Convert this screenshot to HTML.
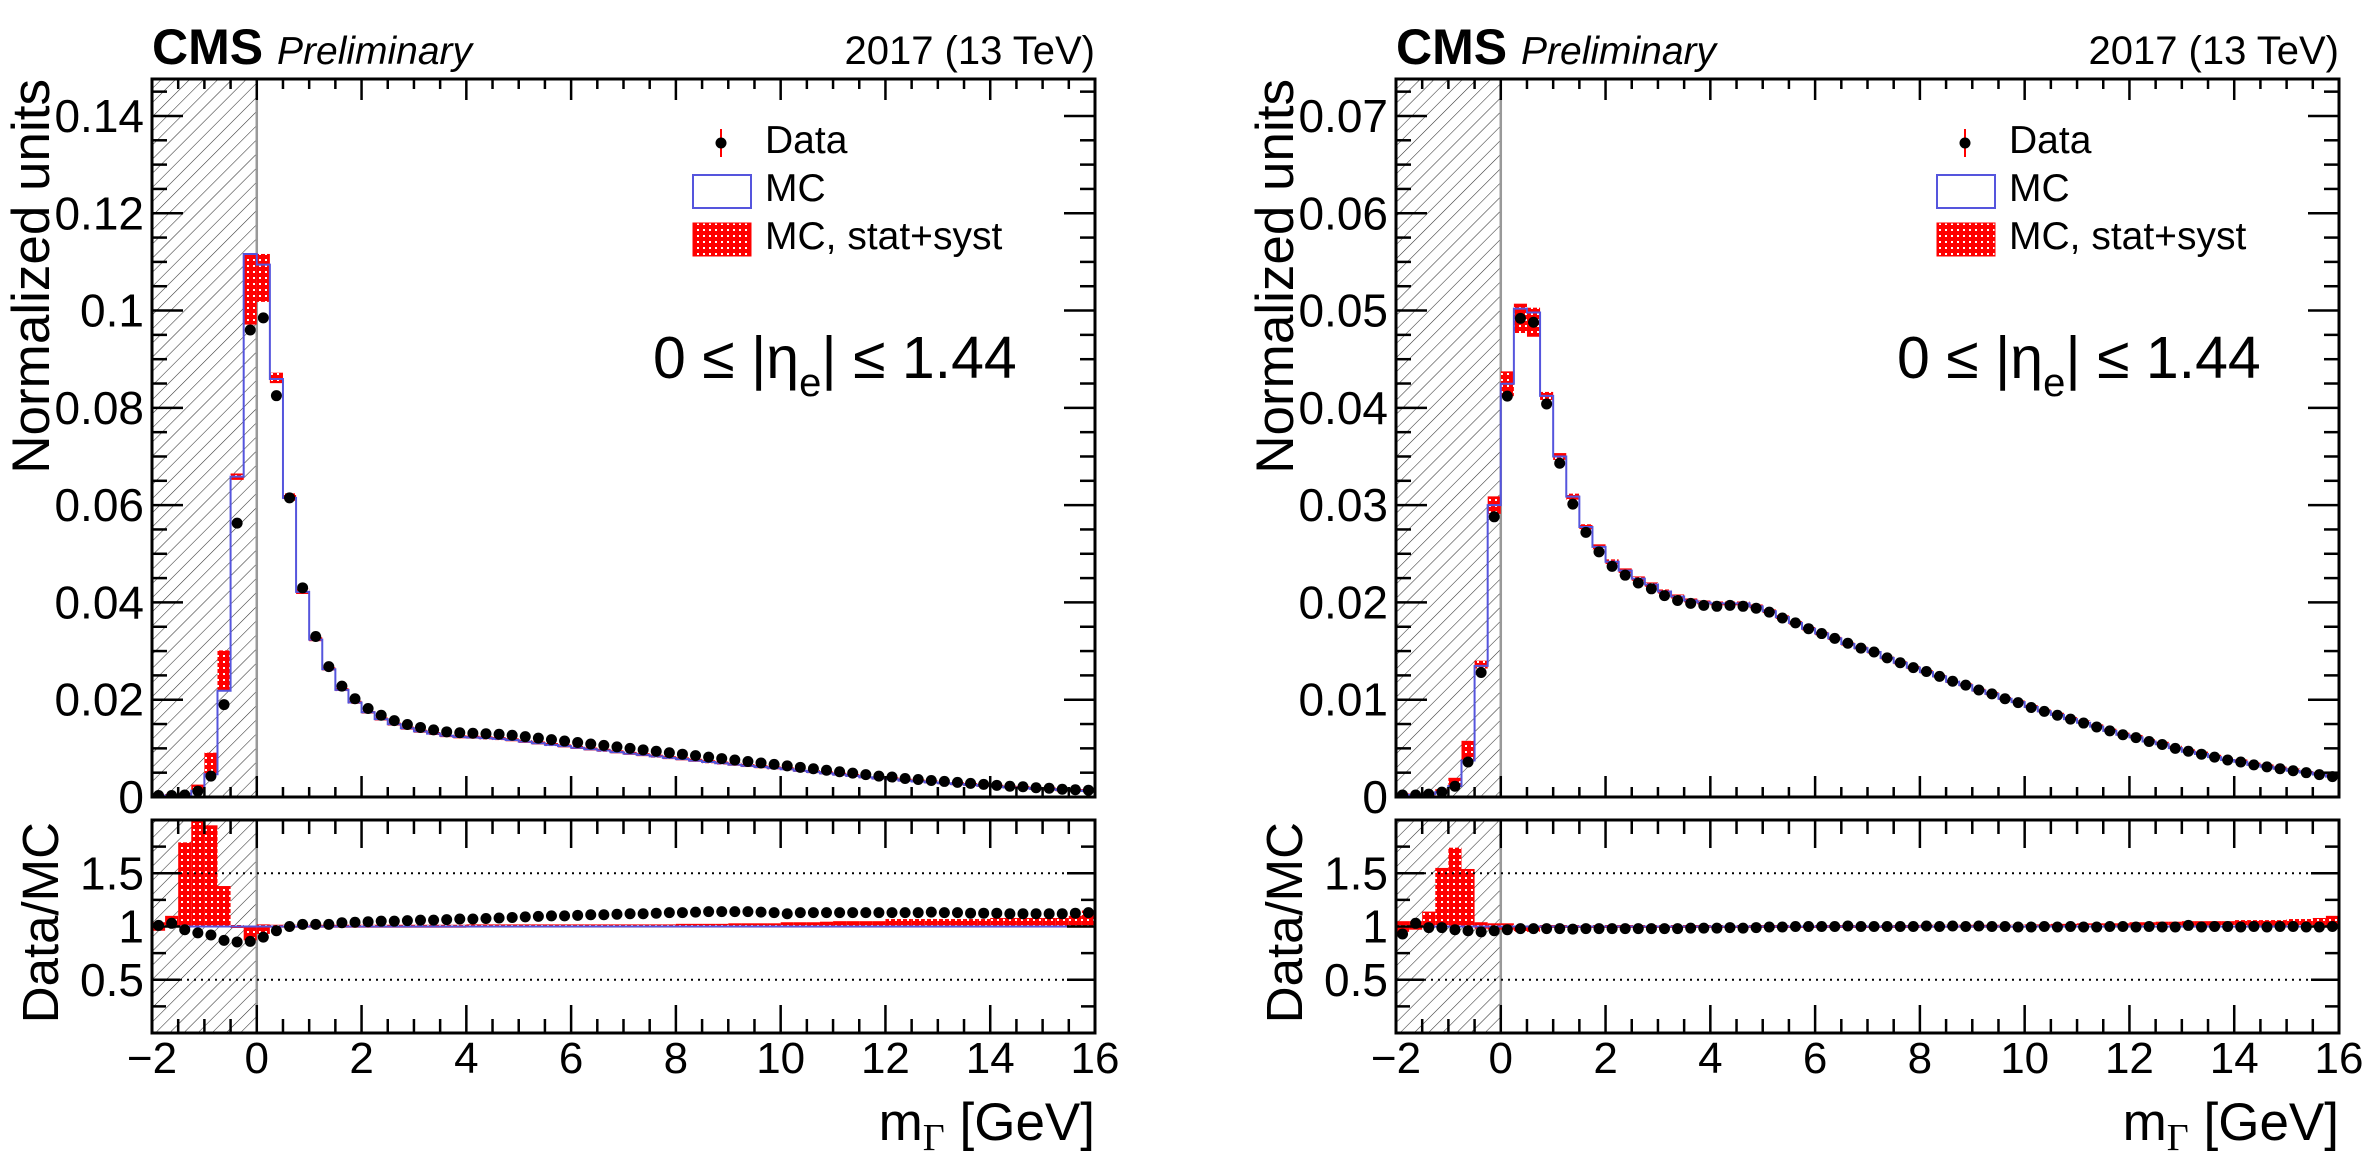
<!DOCTYPE html>
<html><head><meta charset="utf-8">
<style>
html,body{margin:0;padding:0;background:#fff;}
svg{display:block;font-family:"Liberation Sans",Arial,sans-serif;}
</style></head>
<body>
<svg id="fig" width="2378" height="1162" viewBox="0 0 2378 1162" xmlns="http://www.w3.org/2000/svg">
<defs>
<pattern id="hatch" patternUnits="userSpaceOnUse" width="10" height="10" patternTransform="rotate(45)">
<line x1="0" y1="0" x2="0" y2="10" stroke="#333" stroke-width="1.1"/>
</pattern>
<pattern id="redpat" patternUnits="userSpaceOnUse" width="6" height="6">
<rect width="6" height="6" fill="#ff0000"/>
<rect x="1" y="1" width="2" height="2" fill="#ffffff"/>
</pattern>
</defs>
</svg>
<script>
// ---------- data (72 bins of width 0.25 GeV from -2 to 16) ----------
const binLow = -2, binWidth = 0.25;
const xTicksMajor = [-2, 0, 2, 4, 6, 8, 10, 12, 14, 16];
const xTickLabels = ["\u22122", "0", "2", "4", "6", "8", "10", "12", "14", "16"];

// left panel
const leftData = [0.0003,0.0003,0.0004,0.0012,0.0043,0.019,0.0563,0.096,
0.0985,0.0825,0.0615,0.043,0.033,0.0268,0.0228,0.0202,
0.0182,0.0168,0.0157,0.0149,0.0143,0.0138,0.0134,0.0132,
0.0131,0.0130,0.0129,0.0127,0.0124,0.0121,0.0118,0.0115,
0.0112,0.0109,0.0106,0.0103,0.0100,0.0097,0.0094,0.0091,
0.0088,0.0085,0.0082,0.0079,0.0076,0.0073,0.0070,0.0067,
0.0064,0.0061,0.0058,0.0055,0.0052,0.0049,0.0046,0.0043,
0.0041,0.0038,0.0036,0.0034,0.0032,0.0030,0.0028,0.0026,
0.0024,0.0022,0.0021,0.0019,0.0018,0.0016,0.0015,0.0014];
const leftRatio = [1.01,1.03,0.97,0.94,0.92,0.87,0.855,0.86,
0.90,0.96,1.00,1.02,1.02,1.02,1.035,1.04,
1.045,1.05,1.05,1.055,1.06,1.06,1.065,1.07,
1.07,1.075,1.08,1.085,1.09,1.095,1.10,1.10,
1.105,1.11,1.11,1.115,1.12,1.12,1.125,1.13,
1.13,1.135,1.14,1.14,1.14,1.14,1.135,1.13,
1.12,1.13,1.13,1.13,1.13,1.13,1.13,1.13,
1.13,1.13,1.13,1.135,1.13,1.13,1.125,1.125,
1.125,1.12,1.12,1.12,1.12,1.12,1.125,1.13];
const leftErrUp = [0.04,0.10,0.79,1.00,0.95,0.38,0.01,0.00,
0.02,0.015,0.015,0.015,0.015,0.015,0.015,0.015,
0.015,0.015,0.015,0.015,0.015,0.015,0.015,0.015,
0.02,0.02,0.02,0.02,0.02,0.02,0.02,0.02,
0.02,0.02,0.02,0.02,0.02,0.02,0.02,0.02,
0.025,0.025,0.025,0.025,0.03,0.03,0.03,0.03,
0.04,0.04,0.04,0.045,0.05,0.05,0.05,0.05,
0.07,0.07,0.07,0.07,0.07,0.07,0.07,0.07,
0.08,0.08,0.08,0.08,0.08,0.08,0.10,0.15];
const leftErrDn = [0.04,0,0,0,0,0,0.01,0.13,
0.07,0.01,0.01,0.01,0.01,0.01,0.01,0.01,
0.01,0.01,0.01,0.01,0.01,0.01,0.01,0.01,
0.01,0.01,0.01,0.01,0.01,0.01,0.01,0.01,
0.01,0.01,0.01,0.01,0.01,0.01,0.01,0.01,
0.01,0.01,0.01,0.01,0.01,0.01,0.01,0.01,
0.01,0.01,0.01,0.01,0.01,0.01,0.01,0.01,
0.01,0.01,0.01,0.01,0.01,0.01,0.01,0.01,
0.01,0.01,0.01,0.01,0.01,0.01,0.01,0.01];
const leftYTicks = [0, 0.02, 0.04, 0.06, 0.08, 0.1, 0.12, 0.14];
const leftYLabels = ["0","0.02","0.04","0.06","0.08","0.1","0.12","0.14"];

// right panel
const rightData = [0.0002,0.0002,0.0003,0.0005,0.0011,0.0036,0.0128,0.0288,
0.0412,0.0492,0.0488,0.0404,0.0343,0.0301,0.0272,0.0252,
0.0237,0.0228,0.0220,0.0214,0.0207,0.0202,0.0199,0.0197,
0.0196,0.0197,0.0196,0.0194,0.0190,0.0184,0.0179,0.0173,
0.0168,0.0163,0.0158,0.0153,0.0149,0.0143,0.0138,0.0133,
0.0129,0.0124,0.0119,0.0115,0.0110,0.0106,0.0101,0.0097,
0.0092,0.0088,0.0084,0.0080,0.0076,0.0072,0.0068,0.0064,
0.0061,0.0057,0.0054,0.0050,0.0047,0.0044,0.0041,0.0038,
0.0036,0.0033,0.0031,0.0029,0.0027,0.0025,0.0023,0.0021];
const rightRatio = [0.93,1.03,0.99,0.99,0.97,0.96,0.95,0.96,
0.97,0.98,0.98,0.98,0.98,0.975,0.98,0.98,
0.98,0.98,0.98,0.98,0.98,0.98,0.985,0.985,
0.985,0.99,0.985,0.99,0.995,0.995,1.0,1.0,
1.0,1.0,1.005,1.0,1.0,1.0,1.0,1.0,
1.005,1.0,1.005,1.0,1.005,1.0,1.0,0.995,
0.995,1.0,0.995,1.0,0.995,0.995,1.0,1.0,
0.995,1.0,0.995,0.995,1.01,0.995,1.0,1.0,
0.995,1.0,0.995,1.0,1.0,0.995,0.995,1.0];
const rightErrUp = [0.05,0.05,0.14,0.55,0.74,0.54,0.04,0.03,
0.03,0.01,0.01,0.01,0.01,0.01,0.01,0.01,
0.01,0.01,0.01,0.01,0.01,0.01,0.01,0.01,
0.01,0.01,0.01,0.01,0.01,0.01,0.01,0.01,
0.01,0.01,0.01,0.01,0.01,0.01,0.01,0.01,
0.015,0.015,0.015,0.015,0.015,0.015,0.015,0.015,
0.02,0.02,0.025,0.025,0.03,0.03,0.03,0.03,
0.04,0.04,0.045,0.045,0.05,0.05,0.05,0.05,
0.06,0.06,0.06,0.06,0.07,0.07,0.08,0.1];
const rightErrDn = [0.05,0.03,0,0,0,0,0.02,0.03,
0.03,0.05,0.05,0.01,0.01,0.01,0.01,0.01,
0.01,0.01,0.01,0.01,0.01,0.01,0.01,0.01,
0.01,0.01,0.01,0.01,0.01,0.01,0.01,0.01,
0.01,0.01,0.01,0.01,0.01,0.01,0.01,0.01,
0.01,0.01,0.01,0.01,0.01,0.01,0.01,0.01,
0.01,0.01,0.01,0.01,0.01,0.01,0.01,0.01,
0.01,0.01,0.01,0.01,0.01,0.01,0.01,0.01,
0.01,0.01,0.01,0.01,0.01,0.01,0.01,0.01];
const rightYTicks = [0, 0.01, 0.02, 0.03, 0.04, 0.05, 0.06, 0.07];
const rightYLabels = ["0","0.01","0.02","0.03","0.04","0.05","0.06","0.07"];

const ratioTicks = [0.5, 1, 1.5];
const ratioLabels = ["0.5", "1", "1.5"];

// ---------- drawing ----------
const NS = "http://www.w3.org/2000/svg";
const svg = document.getElementById("fig");
function mk(tag, attrs, parent) {
  const e = document.createElementNS(NS, tag);
  for (const k in attrs) e.setAttribute(k, attrs[k]);
  (parent || svg).appendChild(e);
  return e;
}

const TOP = {y0: 79, y1: 797};
const RAT = {y0: 820, y1: 1033, min: 0, max: 2};
const W = 943;

function drawPanel(px, data, ratio, errUp, errDn, ymax, yTicks, yLabels, yMinorStep, key) {
  const g = mk("g", {});
  
  
  const xs = v => px + (v - (-2)) / 18 * W;
  const ys = v => TOP.y1 - v / ymax * (TOP.y1 - TOP.y0);
  const yr = v => RAT.y1 - (Math.max(RAT.min, Math.min(RAT.max, v)) - RAT.min) / (RAT.max - RAT.min) * (RAT.y1 - RAT.y0);
  const mc = data.map((d, i) => d / ratio[i]);

  const cid = key + "clipTop", rid = key + "clipRat";
  const cp = mk("clipPath", {id: cid}, g); mk("rect", {x: px, y: TOP.y0, width: W, height: TOP.y1 - TOP.y0}, cp);
  const cr = mk("clipPath", {id: rid}, g); mk("rect", {x: px, y: RAT.y0, width: W, height: RAT.y1 - RAT.y0}, cr);

  const h1 = mk("rect", {x: xs(-2), y: TOP.y0, width: xs(0) - xs(-2), height: TOP.y1 - TOP.y0, fill: "url(#hatch)"}, g);
  
  
  const h2 = mk("rect", {x: xs(-2), y: RAT.y0, width: xs(0) - xs(-2), height: RAT.y1 - RAT.y0, fill: "url(#hatch)"}, g);
  
  
  mk("line", {x1: xs(0), x2: xs(0), y1: TOP.y0, y2: TOP.y1, stroke: "#999", "stroke-width": 2.5}, g);
  mk("line", {x1: xs(0), x2: xs(0), y1: RAT.y0, y2: RAT.y1, stroke: "#999", "stroke-width": 2.5}, g);

  const gt = mk("g", {"clip-path": "url(#" + cid + ")"}, g);
  for (let i = 0; i < mc.length; i++) {
    const xa = xs(binLow + i * binWidth), xb = xs(binLow + (i + 1) * binWidth);
    let ya = ys(mc[i] * (1 + errUp[i])), yb = ys(mc[i] * (1 - errDn[i]));
    if (yb - ya < 3) { const m = (ya + yb) / 2; ya = m - 1.5; yb = m + 1.5; }
    const r = mk("rect", {x: xa, y: ya, width: xb - xa, height: yb - ya, fill: "url(#redpat)"}, gt);
    
    
  }
  let d = "";
  for (let i = 0; i < mc.length; i++) {
    const xa = xs(binLow + i * binWidth), xb = xs(binLow + (i + 1) * binWidth), y = ys(mc[i]);
    d += (i === 0 ? "M" : "L") + xa + "," + y + "L" + xb + "," + y;
  }
  const mcl = mk("path", {d: d, fill: "none", stroke: "#5555dd", "stroke-width": 2}, gt);
  
  
  for (let i = 0; i < data.length; i++) {
    const c = mk("circle", {cx: xs(binLow + (i + 0.5) * binWidth), cy: ys(data[i]), r: 5.5, fill: "#000"}, gt);
    
    
  }

  const gr = mk("g", {"clip-path": "url(#" + rid + ")"}, g);
  for (let i = 0; i < mc.length; i++) {
    const xa = xs(binLow + i * binWidth), xb = xs(binLow + (i + 1) * binWidth);
    let ya = yr(1 + errUp[i]), yb = yr(1 - errDn[i]);
    if (yb - ya < 3) { const m = (ya + yb) / 2; ya = m - 1.5; yb = m + 1.5; }
    const r = mk("rect", {x: xa, y: ya, width: xb - xa, height: yb - ya, fill: "url(#redpat)"}, gr);
    
    
  }
  ratioTicks.forEach(v => {
    const l = mk("line", {x1: px, x2: px + W, y1: yr(v), y2: yr(v), stroke: "#000", "stroke-width": 2, "stroke-dasharray": "2,5"}, gr);
    
    
  });
  mk("line", {x1: px, x2: px + W, y1: yr(1), y2: yr(1), stroke: "#5555dd", "stroke-width": 2}, gr);
  for (let i = 0; i < ratio.length; i++) {
    const c = mk("circle", {cx: xs(binLow + (i + 0.5) * binWidth), cy: yr(ratio[i]), r: 5.5, fill: "#000"}, gr);
    
    
  }

  [[TOP.y0, TOP.y1], [RAT.y0, RAT.y1]].forEach(([a, b], k) => {
    const f = mk("rect", {x: px, y: a, width: W, height: b - a, fill: "none", stroke: "#000", "stroke-width": 3}, g);
    
    
  });

  for (let v = -2; v <= 16.001; v += 0.5) {
    const major = Math.abs(v / 2 - Math.round(v / 2)) < 1e-6;
    const x = xs(v);
    const lt = major ? 21 : 10, lr = major ? 28 : 14;
    mk("line", {x1: x, x2: x, y1: TOP.y1, y2: TOP.y1 - lt, stroke: "#000", "stroke-width": 2.5}, g);
    mk("line", {x1: x, x2: x, y1: TOP.y0, y2: TOP.y0 + lt, stroke: "#000", "stroke-width": 2.5}, g);
    mk("line", {x1: x, x2: x, y1: RAT.y1, y2: RAT.y1 - lr, stroke: "#000", "stroke-width": 2.5}, g);
    mk("line", {x1: x, x2: x, y1: RAT.y0, y2: RAT.y0 + lr, stroke: "#000", "stroke-width": 2.5}, g);
  }
  xTicksMajor.forEach((v, i) => {
    const t = mk("text", {x: xs(v), y: 1073, "font-size": 44, "text-anchor": "middle"}, g);
    t.textContent = xTickLabels[i];
    
    
  });

  for (let v = 0; v <= ymax + 1e-9; v += yMinorStep) {
    const major = Math.abs((v / (yMinorStep * 4)) - Math.round(v / (yMinorStep * 4))) < 1e-6;
    const y = ys(v), l = major ? 31 : 15;
    mk("line", {x1: px, x2: px + l, y1: y, y2: y, stroke: "#000", "stroke-width": 2.5}, g);
    mk("line", {x1: px + W, x2: px + W - l, y1: y, y2: y, stroke: "#000", "stroke-width": 2.5}, g);
  }
  yTicks.forEach((v, i) => {
    const t = mk("text", {x: px - 8, y: ys(v) + 16, "font-size": 46, "text-anchor": "end"}, g);
    t.textContent = yLabels[i];
    
    
  });
  for (let v = 0.25; v < 2; v += 0.25) {
    const major = Math.abs(v * 2 - Math.round(v * 2)) < 1e-6;
    const y = yr(v), l = major ? 28 : 14;
    mk("line", {x1: px, x2: px + l, y1: y, y2: y, stroke: "#000", "stroke-width": 2.5}, g);
    mk("line", {x1: px + W, x2: px + W - l, y1: y, y2: y, stroke: "#000", "stroke-width": 2.5}, g);
  }
  ratioTicks.forEach((v, i) => {
    const t = mk("text", {x: px - 8, y: yr(v) + 16, "font-size": 46, "text-anchor": "end"}, g);
    t.textContent = ratioLabels[i];
    
    
  });

  const yt = mk("text", {x: 0, y: 0, "font-size": 53, "text-anchor": "end", transform: "translate(" + (px - 103) + ",79) rotate(-90)"}, g);
  yt.textContent = "Normalized units";
  
  
  const rt = mk("text", {x: 0, y: 0, "font-size": 51, "text-anchor": "end", transform: "translate(" + (px - 94) + ",822) rotate(-90)"}, g);
  rt.textContent = "Data/MC";
  
  
  const xt = mk("text", {x: px + W, y: 1140, "font-size": 53, "text-anchor": "end"}, g);
  xt.innerHTML = 'm<tspan font-family="Liberation Serif, serif" font-size="38" dy="10">\u0393</tspan><tspan dy="-10"> [GeV]</tspan>';
  
  

  const cms = mk("text", {x: px, y: 64, "font-size": 50, "font-weight": "bold"}, g);
  cms.textContent = "CMS";
  
  
  const pre = mk("text", {x: px + 125, y: 64, "font-size": 39, "font-style": "italic"}, g);
  pre.textContent = "Preliminary";
  
  
  const lumi = mk("text", {x: px + W, y: 64, "font-size": 40, "text-anchor": "end"}, g);
  lumi.textContent = "2017 (13 TeV)";
  
  

  const lg = mk("g", {}, g);
  
  
  const lx = px + 569;
  mk("line", {x1: lx, x2: lx, y1: 129, y2: 157, stroke: "#f00", "stroke-width": 2}, lg);
  mk("circle", {cx: lx, cy: 143, r: 5.5, fill: "#000"}, lg);
  mk("rect", {x: px + 541, y: 175, width: 58, height: 33, fill: "none", stroke: "#5555dd", "stroke-width": 2}, lg);
  mk("rect", {x: px + 541, y: 223, width: 58, height: 33, fill: "url(#redpat)", stroke: "#f00", "stroke-width": 1}, lg);
  [["Data", 153, 'legend-entry-data'], ["MC", 201, 'legend-entry-mc'], ["MC, stat+syst", 249, 'legend-entry-mc-unc']].forEach(([s, y, n]) => {
    const t = mk("text", {x: px + 613, y: y, "font-size": 39}, lg);
    t.textContent = s;
    
    
  });

  const eta = mk("text", {x: px + 501, y: 378, "font-size": 59}, g);
  eta.innerHTML = '0 \u2264 |\u03B7<tspan font-size="40" dy="18">e</tspan><tspan dy="-18">| \u2264 1.44</tspan>';
  
  
}

drawPanel(152, leftData, leftRatio, leftErrUp, leftErrDn, 0.1476, leftYTicks, leftYLabels, 0.005, "left");
drawPanel(1396, rightData, rightRatio, rightErrUp, rightErrDn, 0.0738, rightYTicks, rightYLabels, 0.0025, "right");
</script>
</body></html>
